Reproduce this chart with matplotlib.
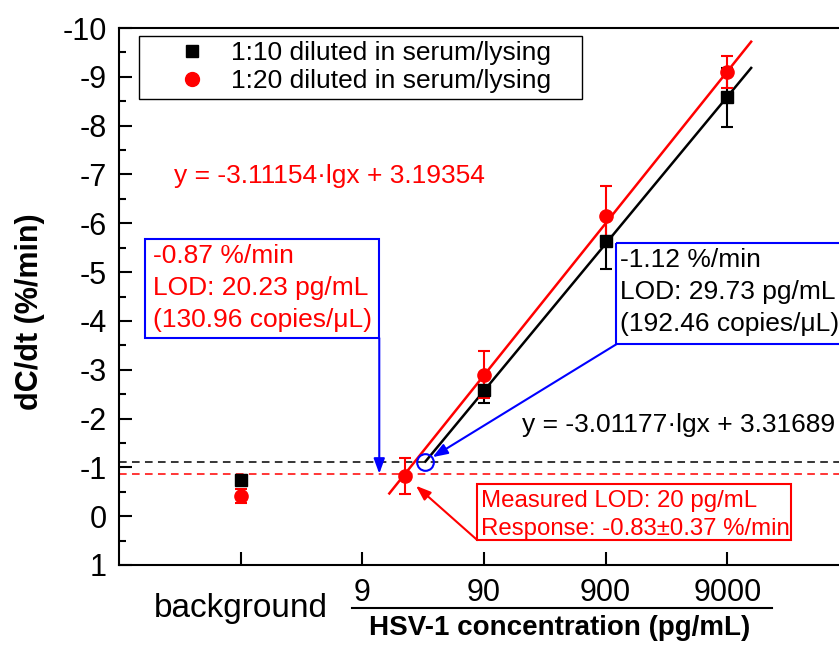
import numpy as np
import matplotlib
matplotlib.use('Agg')
import matplotlib.pyplot as plt
from matplotlib.patches import Rectangle
from matplotlib.lines import Line2D
from matplotlib.ticker import NullLocator

plt.rcParams['font.family'] = ['Liberation Sans', 'DejaVu Sans']
plt.rcParams['axes.unicode_minus'] = False

# Background (blank sample) readings, drawn at the "background" slot
bg_pos = 0.9
bg_black, bg_black_err = -0.75, 0.10
bg_red, bg_red_err = -0.41, 0.14

# 1:10 diluted in serum/lysing
conc_black = [90, 900, 9000]
resp_black = [-2.58, -5.63, -8.58]
err_black = [0.27, 0.57, 0.60]

# 1:20 diluted in serum/lysing
conc_red = [20, 90, 900, 9000]
resp_red = [-0.83, -2.90, -6.15, -9.10]
err_red = [0.37, 0.48, 0.61, 0.32]

# Linear fits dC/dt = a*lg(x) + b and the x-range they are drawn over
fit_black = (-3.01177, 3.31689)
fit_red = (-3.11154, 3.19354)
fit_black_range = (29.73, 14125)
fit_red_range = (15, 14125)

# LOD points (conc, dC/dt)
lod_black = (29.73, -1.12)
lod_red = (20.23, -0.87)

xticks = [0.9, 9, 90, 900, 9000]
xticklabels = ['', '9', '90', '900', '9000']

RED = '#ff0000'
BLUE = '#0000ff'


def fit_line(coef, xr):
    xs = np.array(xr)
    return xs, coef[0] * np.log10(xs) + coef[1]


def box_text(ax, x, y, lines, color, size, step):
    # one annotation per line so the baselines are evenly spaced
    for i, s in enumerate(lines):
        ax.annotate(s, xy=(x, y), xytext=(0, -i * step), textcoords='offset points',
                    color=color, fontsize=size, ha='left', va='baseline',
                    annotation_clip=False)


def arrow(ax, start, end, color, shrink=0):
    ax.annotate('', xy=end, xytext=start, annotation_clip=False,
                arrowprops=dict(arrowstyle='-|>,head_length=0.6,head_width=0.22',
                                color=color, lw=1.5, mutation_scale=15,
                                shrinkA=0, shrinkB=shrink))


fig = plt.figure(figsize=(8.39, 6.45), dpi=100)
ax = fig.add_axes([119 / 839, 80 / 645, 730 / 839, 537 / 645])
ax.set_xscale('log')
ax.set_xlim(0.09, 90000)
ax.set_ylim(1, -10)

for sp in ax.spines.values():
    sp.set_linewidth(1.5)

ax.set_yticks(np.arange(-10, 2, 1))
ax.set_yticks(np.arange(-9.5, 1, 1), minor=True)
ax.set_xticks(xticks, labels=xticklabels)
ax.xaxis.set_minor_locator(NullLocator())
ax.tick_params(axis='both', which='both', direction='in', width=1.5, top=False, right=False)
ax.tick_params(axis='y', which='major', length=9.5, labelsize=22, pad=8.6)
ax.tick_params(axis='y', which='minor', length=5)
ax.tick_params(axis='x', which='major', length=9.5, labelsize=22, pad=9.4)

# LOD threshold lines
ax.axhline(lod_black[1], color='black', lw=1.1, ls=(0, (5, 3.5)), zorder=1)
ax.axhline(lod_red[1], color=RED, lw=1.1, ls=(0, (5, 3.5)), zorder=1)

# fitted lines
xb, yb = fit_line(fit_black, fit_black_range)
xr, yr = fit_line(fit_red, fit_red_range)
ax.plot(xb, yb, color='black', lw=1.8, zorder=2)
ax.plot(xr, yr, color=RED, lw=1.8, zorder=2)

# data with error bars
ebkw = dict(fmt='none', elinewidth=1.5, capsize=4.5, capthick=1.5, zorder=3)
ax.errorbar(conc_black, resp_black, yerr=err_black, ecolor='black', **ebkw)
ax.errorbar(conc_red, resp_red, yerr=err_red, ecolor=RED, **ebkw)
ax.errorbar([bg_pos], [bg_black], yerr=[bg_black_err], ecolor='black', **ebkw)
ax.errorbar([bg_pos], [bg_red], yerr=[bg_red_err], ecolor=RED, **ebkw)

ax.plot(conc_black + [bg_pos], resp_black + [bg_black], 's', color='black', ms=8, zorder=4)
ax.plot(conc_red + [bg_pos], resp_red + [bg_red], 'o', color=RED, ms=9.5, zorder=4)

# open circle marking the 1:10 LOD
ax.plot(*lod_black, 'o', mfc='none', mec=BLUE, mew=1.5, ms=12, zorder=5)

# legend
handles = [Line2D([], [], ls='none', marker='s', color='black', ms=9),
           Line2D([], [], ls='none', marker='o', color=RED, ms=10)]
labels = ['1:10 diluted in serum/lysing', '1:20 diluted in serum/lysing']
leg = ax.legend(handles, labels, loc='upper left', bbox_to_anchor=(0.0274, 0.985, 0.607, 0),
                mode='expand', borderaxespad=0, fontsize=19, frameon=True, fancybox=False,
                edgecolor='black', framealpha=1, borderpad=0.2, handlelength=3.6,
                handletextpad=-0.3, labelspacing=0.15, numpoints=1)
leg.get_frame().set_linewidth(1.0)

# fit equations
ax.text(0.257, -6.82, 'y = -3.11154\u00b7lgx + 3.19354', color=RED, fontsize=19, va='baseline')
ax.text(186, -1.72, 'y = -3.01177\u00b7lgx + 3.31689', color='black', fontsize=19, va='baseline')

# 1:20 LOD box
ax.add_patch(Rectangle((0.146, -5.68), 12.4 - 0.146, 2.03, fill=False, ec=BLUE, lw=1.5,
                       clip_on=False, zorder=6))
box_text(ax, 0.172, -5.18, ['-0.87 %/min', 'LOD: 20.23 pg/mL', '(130.96 copies/\u03bcL)'],
         RED, 19, 23)
arrow(ax, (12.4, -3.65), (12.4, lod_red[1]), BLUE)

# 1:10 LOD box
ax.add_patch(Rectangle((1099, -5.59), 120000 - 1099, 2.07, fill=False, ec=BLUE, lw=1.5,
                       clip_on=False, zorder=6))
box_text(ax, 1186, -5.10, ['-1.12 %/min', 'LOD: 29.73 pg/mL', '(192.46 copies/\u03bcL)'],
         'black', 19, 23)
arrow(ax, (1099, -3.52), lod_black, BLUE, shrink=6)

# measured LOD box
ax.add_patch(Rectangle((79.3, -0.66), 30100 - 79.3, 1.15, fill=False, ec=RED, lw=1.5,
                       clip_on=False, zorder=6))
box_text(ax, 85.5, -0.184, ['Measured LOD: 20 pg/mL', 'Response: -0.83\u00b10.37 %/min'],
         RED, 17.3, 20)
arrow(ax, (79.3, 0.49), (conc_red[0], resp_red[0]), RED, shrink=11)

# x-axis labelling: background slot, rule under the concentration ticks, title
xt = ax.get_xaxis_transform()
ax.text(bg_pos, -0.0968, 'background', transform=xt, fontsize=24, ha='center', va='baseline')
ax.plot([7.45, 21000], [-0.080, -0.080], transform=xt, color='black', lw=1.5, clip_on=False)
ax.set_xlabel('HSV-1 concentration (pg/mL)', fontsize=20, fontweight='bold', va='baseline')
ax.xaxis.set_label_coords(0.604, -0.130)
ax.set_ylabel('dC/dt (%/min)', fontsize=22, fontweight='bold', va='center', ha='center')
ax.yaxis.set_label_coords(-0.122, 0.471)

fig.savefig('out.png', dpi=100)
